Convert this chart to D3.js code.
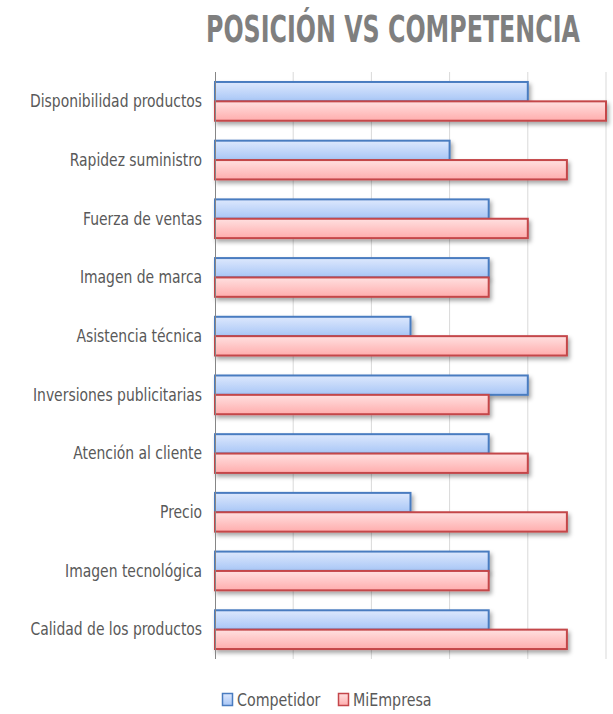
<!DOCTYPE html>
<html>
<head>
<meta charset="utf-8">
<script src="https://cdn.jsdelivr.net/npm/d3@7"></script>
<style>
  html, body { margin: 0; padding: 0; background: #fff; }
  svg { display: block; }
</style>
</head>
<body>
<svg id="chart" width="613" height="714"></svg>
<script>
// Factors evaluated, listed top to bottom
const categories = [
  "Disponibilidad productos",
  "Rapidez suministro",
  "Fuerza de ventas",
  "Imagen de marca",
  "Asistencia técnica",
  "Inversiones publicitarias",
  "Atención al cliente",
  "Precio",
  "Imagen tecnológica",
  "Calidad de los productos"
];
const seriesNames = ["Competidor", "MiEmpresa"];
const competidor = [4, 3, 3.5, 3.5, 2.5, 4, 3.5, 2.5, 3.5, 3.5];
const miEmpresa  = [5, 4.5, 4, 3.5, 4.5, 3.5, 4, 4.5, 3.5, 4.5];
const gridTicks = [0, 1, 2, 3, 4, 5];
const titleText = "POSICIÓN VS COMPETENCIA";

const values = { Competidor: competidor, MiEmpresa: miEmpresa };
const styles = {
  Competidor: { top: "#dde8fd", bottom: "#a8c6f6", stroke: "#4a7cc0" },
  MiEmpresa:  { top: "#ffe0e0", bottom: "#ffadad", stroke: "#c4464a" }
};
const fontStack = "'Liberation Sans Narrow', 'DejaVu Sans Condensed', 'DejaVu Sans', sans-serif";

const svg = d3.select("#chart");
const defs = svg.append("defs");

seriesNames.forEach(name => {
  const g = defs.append("linearGradient")
    .attr("id", "grad-" + name)
    .attr("x1", 0).attr("y1", 0).attr("x2", 0).attr("y2", 1);
  g.append("stop").attr("offset", "0%").attr("stop-color", styles[name].top);
  g.append("stop").attr("offset", "100%").attr("stop-color", styles[name].bottom);
});

const shadow = defs.append("filter")
  .attr("id", "barShadow")
  .attr("x", "-5%").attr("y", "-30%").attr("width", "115%").attr("height", "180%");
shadow.append("feDropShadow")
  .attr("dx", 2).attr("dy", 3)
  .attr("stdDeviation", 2)
  .attr("flood-color", "#000")
  .attr("flood-opacity", 0.35);

const plot = { left: 215, right: 606, top: 72, bottom: 659 };

const x = d3.scaleLinear().domain([0, 5]).range([plot.left, plot.right]);
const y = d3.scaleBand().domain(categories)
  .range([plot.top, plot.bottom])
  .paddingInner(0.34).paddingOuter(0.17);
const ySeries = d3.scaleBand().domain(seriesNames).range([0, y.bandwidth()]);

// Squeeze a text horizontally so it spans the given width
function fitWidth(sel, width) {
  const len = sel.node().getComputedTextLength();
  return len > 0 ? width / len : 1;
}

// Title, a condensed heavy heading
const titleG = svg.append("g").attr("transform", "translate(206,42)");
const title = titleG.append("text")
  .attr("x", 0).attr("y", 0)
  .attr("font-family", fontStack)
  .attr("font-weight", "bold")
  .attr("font-size", 38)
  .attr("fill", "#7f7f7f")
  .text(titleText);
title.attr("transform", `scale(${fitWidth(title, 374)},1)`);

// Vertical gridlines
svg.append("g")
  .selectAll("line")
  .data(gridTicks.filter(t => t > 0))
  .join("line")
  .attr("x1", d => x(d)).attr("x2", d => x(d))
  .attr("y1", plot.top).attr("y2", plot.bottom)
  .attr("stroke", "#d9d9d9")
  .attr("stroke-width", 1);

// Bars
const groups = svg.append("g")
  .selectAll("g")
  .data(categories)
  .join("g")
  .attr("transform", d => `translate(0,${y(d)})`);

groups.selectAll("rect")
  .data((c, i) => seriesNames.map(s => ({ series: s, value: values[s][i] })))
  .join("rect")
  .attr("x", x(0))
  .attr("y", d => ySeries(d.series))
  .attr("width", d => x(d.value) - x(0))
  .attr("height", ySeries.bandwidth())
  .attr("fill", d => `url(#grad-${d.series})`)
  .attr("stroke", d => styles[d.series].stroke)
  .attr("stroke-width", 2)
  .attr("filter", "url(#barShadow)");

// Category axis
const labelScale = 0.86;
const yAxis = svg.append("g")
  .attr("transform", `translate(${plot.left},0)`)
  .call(d3.axisLeft(y).tickSize(0).tickPadding(15));
yAxis.select(".domain")
  .attr("d", `M0.5,${plot.top}V${plot.bottom}`)
  .attr("stroke", "#868686");
yAxis.selectAll("text")
  .attr("font-family", fontStack)
  .attr("font-size", 18)
  .attr("fill", "#595959")
  .attr("transform", `scale(${labelScale},1)`);

// Legend
const legend = svg.append("g").attr("transform", "translate(222,692)");
const legendOffsets = [0, 116];
seriesNames.forEach((name, i) => {
  const item = legend.append("g").attr("transform", `translate(${legendOffsets[i]},0)`);
  item.append("rect")
    .attr("x", 0.5).attr("y", 1.5)
    .attr("width", 10).attr("height", 12)
    .attr("fill", `url(#grad-${name})`)
    .attr("stroke", styles[name].stroke)
    .attr("stroke-width", 1.5);
  item.append("text")
    .attr("x", 15 / 0.88).attr("y", 14)
    .attr("font-family", fontStack)
    .attr("font-size", 18)
    .attr("fill", "#595959")
    .attr("transform", "scale(0.88,1)")
    .text(name);
});
</script>
</body>
</html>
